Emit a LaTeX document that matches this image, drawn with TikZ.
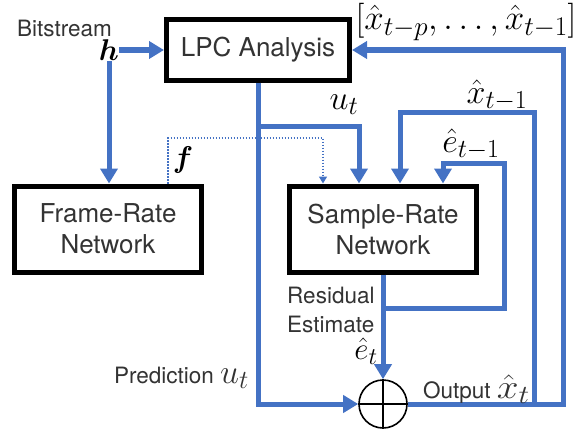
\RequirePackage{fix-cm}
\documentclass[tikz,border=0pt]{standalone}
\usepackage{amsmath}
\usepackage{graphicx}
\usepackage{fontspec}
\setmainfont{TeX Gyre Heros}
\usetikzlibrary{arrows.meta}
\DeclareMathSizes{30}{30}{23}{18}
\DeclareMathSizes{31}{31}{24}{19}
\DeclareMathSizes{34}{34}{26}{20}
\DeclareMathSizes{35}{35}{27}{21}
\definecolor{lineblue}{HTML}{4472C4}
\definecolor{txtgray}{HTML}{333333}
\tikzset{
  block/.style={draw, line width=5pt, minimum width=183pt, minimum height=60pt,
    align=center, text=txtgray, font=\fontsize{26}{31}\selectfont},
  netblock/.style={block, minimum width=187pt, minimum height=86pt},
  flow/.style={draw=lineblue, line width=5pt, -{Triangle[length=15pt,width=17pt]}},
  link/.style={draw=lineblue, line width=5pt},
  fdot/.style={draw=lineblue, line width=1.5pt, dash pattern=on 1.5pt off 1.5pt,
    -{Triangle[length=7pt,width=8pt]}},
  lbl/.style={inner sep=0pt, text=txtgray, font=\fontsize{22.5}{29}\selectfont},
  sym/.style={inner sep=0pt, font=\fontsize{34}{38}\selectfont},
}
\newcommand{\bigmath}[1]{{\fontsize{34}{38}\selectfont$#1$}}

\begin{document}
\begin{tikzpicture}[x=1pt, y=-1pt]
    \useasboundingbox (0,0) rectangle (577,428);
    % blocks
    \node[block] (lpc) at (258,50) {LPC Analysis};
    \node[netblock] (frame) at (108,229) {Frame-Rate\\Network};
    \node[netblock] (sample) at (383,229) {Sample-Rate\\Network};
    \node[draw, circle, line width=1.6pt, minimum size=48pt, inner sep=0pt] (sum) at (383,404) {};
    \draw[line width=1.6pt] (sum.north) -- (sum.south) (sum.west) -- (sum.east);
    % input
    \node[sym, font=\fontsize{30}{34}\selectfont] (h) at (109,50) {$\boldsymbol{h}$};
    \node[lbl, anchor=west] (bits) at (17,28) {Bitstream};
    \draw[flow] (h.east) -- (h.east -| lpc.west);
    \draw[flow] (h.south) -- (h.south |- frame.north);
    % conditioning
    \draw[fdot] (frame.north -| 168,0) |- (323,138) -- (sample.north -| 323,0);
    \node[sym, font=\fontsize{30}{34}\selectfont] (f) at (183,160) {$\boldsymbol{f}$};
    % prediction
    \draw[flow] (lpc.south) -- (lpc.south |- sum.west) -- (sum.west);
    \draw[flow] (lpc.south |- 0,126) -| (sample.north -| 359,0);
    \node[sym] (ut) at (344,105) {$u_t$};
    % feedback
    \coordinate (tap) at (sample.south |- 0,308);
    \draw[flow] (sample.south) -- (sum.north);
    \draw[flow] (tap) -| (504,163) -| (sample.north -| 443,0);
    \draw[flow] (sum.east -| 534,0) |- (400,112) -- (sample.north -| 400,0);
    \draw[flow] (sum.east) -| (563,50) -- (lpc.east);
    \node[sym] (et1) at (471,144) {$\hat{e}_{t-1}$};
    \node[sym] (xt1) at (497,95) {$\hat{x}_{t-1}$};
    \node[sym, font=\fontsize{35}{40}\selectfont] (hist) at (466,22) {$[\hat{x}_{t-p},\ldots,\hat{x}_{t-1}]$};
    % labels
    \node[lbl, anchor=west, align=left] (res) at (287,310) {Residual\\Estimate};
    \node[sym, font=\fontsize{31}{35}\selectfont] (et) at (366,351) {$\hat{e}_t$};
    \node[lbl, anchor=east] (pred) at (249,378) {Prediction \bigmath{u_t}};
    \node[lbl, anchor=east] (out) at (530,389) {Output \scalebox{1.15}[1]{\bigmath{\hat{x}_t}}};
\end{tikzpicture}
\end{document}
